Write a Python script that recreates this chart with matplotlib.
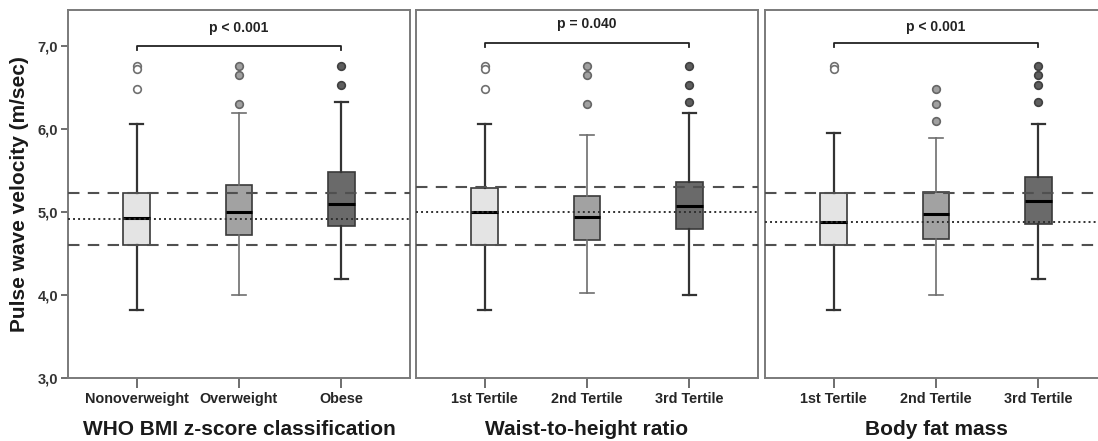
import numpy as np
import matplotlib
matplotlib.use('Agg')
from matplotlib import pyplot as plt

plt.rcParams['font.family'] = ['Liberation Sans', 'DejaVu Sans']

# box summaries per panel: whislo, q1, median, q3, whishi
panel_titles = ['WHO BMI z-score classification', 'Waist-to-height ratio', 'Body fat mass']
panel_cats = [['Nonoverweight', 'Overweight', 'Obese'],
              ['1st Tertile', '2nd Tertile', '3rd Tertile'],
              ['1st Tertile', '2nd Tertile', '3rd Tertile']]
p_labels = ['p < 0.001', 'p = 0.040', 'p < 0.001']

bmi_stats = [(3.82, 4.60, 4.93, 5.23, 6.06),
             (4.00, 4.72, 5.00, 5.33, 6.20),
             (4.19, 4.83, 5.10, 5.49, 6.33)]
whtr_stats = [(3.82, 4.60, 5.00, 5.29, 6.06),
              (4.03, 4.66, 4.94, 5.19, 5.93),
              (4.00, 4.80, 5.08, 5.36, 6.20)]
fat_stats = [(3.82, 4.60, 4.88, 5.23, 5.96),
             (4.00, 4.68, 4.98, 5.24, 5.90),
             (4.19, 4.86, 5.13, 5.43, 6.06)]

bmi_fliers = [[6.77, 6.73, 6.49], [6.77, 6.66, 6.30], [6.76, 6.53]]
whtr_fliers = [[6.77, 6.73, 6.49], [6.77, 6.66, 6.30], [6.76, 6.53, 6.33]]
fat_fliers = [[6.77, 6.73], [6.49, 6.30, 6.10], [6.77, 6.66, 6.53, 6.33]]

# reference lines: lower dashed, dotted (overall median), upper dashed
ref_lines = [(4.60, 4.92, 5.23), (4.60, 5.00, 5.31), (4.60, 4.88, 5.23)]
bracket_y = [7.00, 7.04, 7.04]
ptext_y = [7.22, 7.27, 7.24]

all_stats = [bmi_stats, whtr_stats, fat_stats]
all_fliers = [bmi_fliers, whtr_fliers, fat_fliers]

face = ['#e4e4e4', '#a2a2a2', '#6a6a6a']
whisk_col = ['#333333', '#6e6e6e', '#333333']
whisk_lw = [1.6, 1.2, 1.6]
flier_face = ['#ffffff', '#a0a0a0', '#5e5e5e']
flier_edge = ['#707070', '#666666', '#404040']

fig = plt.figure(figsize=(10.98, 4.41), dpi=100)
W, H = 1098.0, 441.0
lefts = [68, 416, 765]
axes = [fig.add_axes([l / W, 1 - 378 / H, 342 / W, 368 / H]) for l in lefts]

for k, ax in enumerate(axes):
    lo, mid, hi = ref_lines[k]
    ax.axhline(lo, color='#505050', lw=1.5, ls=(0, (5.5, 4)), zorder=3)
    ax.axhline(hi, color='#505050', lw=1.5, ls=(0, (5.5, 4)), zorder=3)
    ax.axhline(mid, color='#303030', lw=1.4, ls=(0, (1, 1.6)), zorder=3)

    for i in range(3):
        s = all_stats[k][i]
        st = dict(whislo=s[0], q1=s[1], med=s[2], q3=s[3], whishi=s[4],
                  fliers=all_fliers[k][i])
        ax.bxp([st], positions=[i + 1], widths=0.26, patch_artist=True,
               showfliers=True, capwidths=0.13,
               boxprops=dict(facecolor=face[i], edgecolor='#3a3a3a', lw=1.2),
               medianprops=dict(color='black', lw=2.2),
               whiskerprops=dict(color=whisk_col[i], lw=whisk_lw[i]),
               capprops=dict(color=whisk_col[i], lw=whisk_lw[i]),
               flierprops=dict(marker='o', markersize=5.5,
                               markerfacecolor=flier_face[i],
                               markeredgecolor=flier_edge[i], mew=1.2))

    yb = bracket_y[k]
    ax.plot([1, 1, 3, 3], [yb - 0.045, yb, yb, yb - 0.045], color='#222222', lw=1.3)
    ax.text(2, ptext_y[k], p_labels[k], ha='center', va='center',
            fontsize=10, fontweight='bold', color='#222222')

    ax.set_xlim(0.33, 3.67)
    ax.set_ylim(3.0, 7.44)
    ax.set_xticks([1, 2, 3])
    ax.set_xticklabels(panel_cats[k], fontsize=10.4, fontweight='bold', color='#262626')
    ax.tick_params(axis='x', length=7, width=1.2, color='#555555', pad=3)
    ax.set_xlabel(panel_titles[k], fontsize=15, fontweight='bold',
                  color='#1a1a1a', labelpad=10)
    for sp in ax.spines.values():
        sp.set_color('#7a7a7a')
        sp.set_linewidth(1.4)
    if k == 0:
        ax.set_yticks([3, 4, 5, 6, 7])
        ax.set_yticklabels(['3,0', '4,0', '5,0', '6,0', '7,0'],
                           fontsize=10.5, fontweight='bold', color='#333333')
        ax.tick_params(axis='y', length=5, width=1.2, color='#555555', pad=2)
        ax.set_ylabel('Pulse wave velocity (m/sec)', fontsize=15,
                      fontweight='bold', color='#1a1a1a', labelpad=6)
    else:
        ax.set_yticks([])

plt.savefig('out.png', dpi=100)
